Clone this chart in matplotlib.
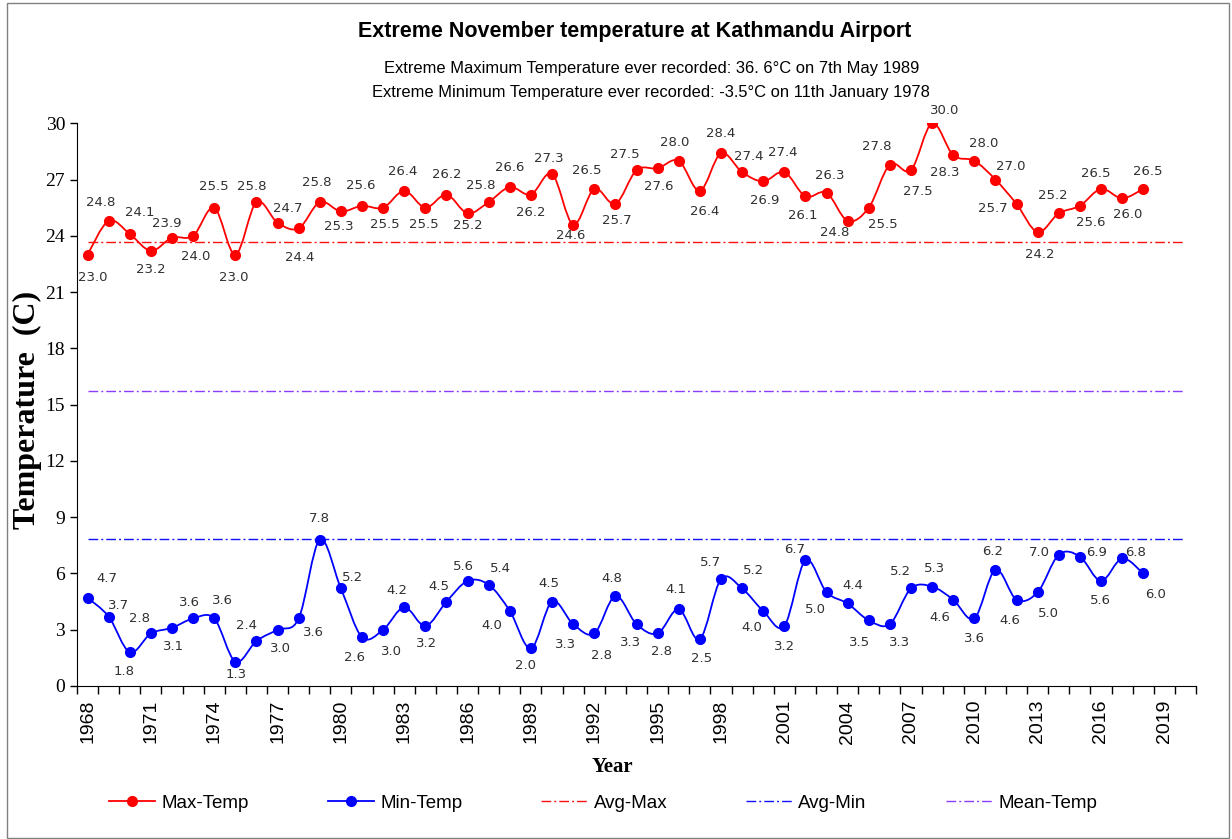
import matplotlib
matplotlib.use("Agg")
import matplotlib.pyplot as plt
import numpy as np
from matplotlib.lines import Line2D
from matplotlib.patches import PathPatch, Rectangle
from matplotlib.path import Path

# data
years = list(range(1968, 2019))
max_temp = [23.0, 24.8, 24.1, 23.2, 23.9, 24.0, 25.5, 23.0, 25.8, 24.7,
            24.4, 25.8, 25.3, 25.6, 25.5, 26.4, 25.5, 26.2, 25.2, 25.8,
            26.6, 26.2, 27.3, 24.6, 26.5, 25.7, 27.5, 27.6, 28.0, 26.4,
            28.4, 27.4, 26.9, 27.4, 26.1, 26.3, 24.8, 25.5, 27.8, 27.5,
            30.0, 28.3, 28.0, 27.0, 25.7, 24.2, 25.2, 25.6, 26.5, 26.0,
            26.5]
min_temp = [4.7, 3.7, 1.8, 2.8, 3.1, 3.6, 3.6, 1.3, 2.4, 3.0,
            3.6, 7.8, 5.2, 2.6, 3.0, 4.2, 3.2, 4.5, 5.6, 5.4,
            4.0, 2.0, 4.5, 3.3, 2.8, 4.8, 3.3, 2.8, 4.1, 2.5,
            5.7, 5.2, 4.0, 3.2, 6.7, 5.0, 4.4, 3.5, 3.3, 5.2,
            5.3, 4.6, 3.6, 6.2, 4.6, 5.0, 7.0, 6.9, 5.6, 6.8,
            6.0]
avg_max = 23.65
avg_min = 7.83
mean_temp = 15.72
first_year, last_year = 1968, 2020

# label offsets in pixels (dx, dy with dy positive = up)
max_off = [(5, -23), (-8, 18), (10, 21), (0, -19), (-5, 14), (3, -21), (0, 21), (-2, -23), (-5, 16), (10, 14),
           (1, -29), (-3, 20), (-2, -15), (-1, 20), (2, -17), (-2, 19), (-2, -17), (0, 20), (0, -12), (-8, 17),
           (0, 20), (0, -18), (-3, 15), (-2, -11), (-8, 18), (1, -17), (-12, 16), (1, -18), (-4, 18), (5, -21),
           (0, 20), (7, 16), (2, -19), (-2, 20), (-3, -19), (3, 17), (-13, -12), (14, -17), (-13, 18), (7, -21),
           (13, 13), (-8, -17), (9, 17), (15, 13), (-24, -5), (2, -22), (-6, 18), (11, -17), (-5, 15), (6, -16),
           (5, 17)]
min_off = [(19, 19), (10, 11), (-6, -19), (-11, 15), (2, -19), (-4, 16), (8, 18), (1, -13), (-10, 15), (3, -19),
           (15, -14), (0, 21), (12, 11), (-8, -20), (8, -22), (-7, 17), (1, -18), (-8, 15), (-4, 14), (12, 16),
           (-18, -15), (-5, -17), (-3, 18), (-8, -20), (7, -22), (-4, 17), (-6, -18), (4, -18), (-3, 20), (2, -19),
           (-10, 17), (11, 18), (-11, -17), (0, -21), (-11, 11), (-11, -17), (5, 18), (-9, -22), (10, -18), (-10, 17),
           (2, 18), (-13, -18), (0, -20), (-3, 18), (-7, -21), (11, -21), (-19, 2), (17, 4), (-1, -20), (13, 6),
           (12, -21)]


def smooth_path(x, y):
    """Bezier path through the points, like Excel's smoothed line."""
    pts = np.column_stack([x, y]).astype(float)
    n = len(pts)
    verts = [pts[0]]
    codes = [Path.MOVETO]
    for i in range(n - 1):
        p0 = pts[max(i - 1, 0)]
        p1 = pts[i]
        p2 = pts[i + 1]
        p3 = pts[min(i + 2, n - 1)]
        verts += [p1 + (p2 - p0) / 6, p2 - (p3 - p1) / 6, p2]
        codes += [Path.CURVE4] * 3
    return Path(verts, codes)


W, H = 1232, 839
fig = plt.figure(figsize=(W / 100, H / 100), dpi=100)
ax = fig.add_axes([77 / W, 1 - 686 / H, (1196 - 77) / W, (686 - 123.3) / H])

sans = "Liberation Sans"
serif = "Liberation Serif"
label_color = "#303030"

dash = (0, (7, 2.2, 1.4, 2.2))
ax.plot([first_year, last_year], [avg_max] * 2, color="#ff1010", lw=1.0, linestyle=dash)
ax.plot([first_year, last_year], [avg_min] * 2, color="#1010ff", lw=1.0, linestyle=dash)
ax.plot([first_year, last_year], [mean_temp] * 2, color="#8a3cff", lw=1.0, linestyle=dash)

for vals, color, offs in [(max_temp, "#ff0000", max_off), (min_temp, "#0000ff", min_off)]:
    ax.add_patch(PathPatch(smooth_path(years, vals), fill=False, edgecolor=color, lw=1.3))
    ax.plot(years, vals, "o", color=color, markersize=7, zorder=3)
    for x, v, (dx, dy) in zip(years, vals, offs):
        ax.annotate(f"{v:.1f}", (x, v), xytext=(dx, dy), textcoords="offset pixels",
                    ha="center", va="center", fontsize=9.5, color=label_color,
                    family="DejaVu Sans")

ax.set_xlim(first_year - 0.5, last_year + 0.5)
ax.set_ylim(0, 30)
ax.set_yticks(range(0, 31, 3))
ax.set_xticks(range(1968, 2020, 3))
ax.set_xticks(np.arange(first_year - 0.5, last_year + 0.6, 1), minor=True)
ax.tick_params(axis="x", which="major", length=0, pad=10, rotation=90, labelsize=14)
ax.tick_params(axis="x", which="minor", length=6, direction="out", width=1)
ax.tick_params(axis="y", length=5, width=1, labelsize=14)
for lab in ax.get_xticklabels():
    lab.set_family(sans)
for lab in ax.get_yticklabels():
    lab.set_family(serif)
ax.spines["top"].set_visible(False)
ax.spines["right"].set_visible(False)

fig.text(27 / W, 1 - 410 / H, "Temperature  (C)", rotation=90, ha="center", va="center",
         family=serif, fontweight="bold", fontsize=23)
fig.text(612 / W, 1 - 767 / H, "Year", ha="center", va="center",
         family=serif, fontweight="bold", fontsize=15)

fig.text(635 / W, 1 - 32 / H, "Extreme November temperature at Kathmandu Airport",
         ha="center", va="center", family=sans, fontweight="bold", fontsize=15.5)
fig.text(652 / W, 1 - 68 / H,
         "Extreme Maximum Temperature ever recorded: 36. 6\u00b0C on 7th May 1989",
         ha="center", va="center", family=sans, fontsize=11.9)
fig.text(651 / W, 1 - 93 / H,
         "Extreme Minimum Temperature ever recorded: -3.5\u00b0C on 11th January 1978",
         ha="center", va="center", family=sans, fontsize=11.9)

handles = [
    Line2D([], [], color="#ff0000", marker="o", markersize=7, lw=1.3),
    Line2D([], [], color="#0000ff", marker="o", markersize=7, lw=1.3),
    Line2D([], [], color="#ff1010", lw=1.0, linestyle=dash),
    Line2D([], [], color="#1010ff", lw=1.0, linestyle=dash),
    Line2D([], [], color="#8a3cff", lw=1.0, linestyle=dash),
]
labels = ["Max-Temp", "Min-Temp", "Avg-Max", "Avg-Min", "Mean-Temp"]
fig.legend(handles, labels, loc="center", bbox_to_anchor=(603 / W, 1 - 803 / H), ncol=5,
           frameon=False, prop={"family": sans, "size": 13.5}, handlelength=2.45,
           handletextpad=0.35, columnspacing=4.2)

fig.add_artist(Rectangle((7 / W, 1 / H), (1229 - 7) / W, (836 - 1) / H, transform=fig.transFigure,
                         fill=False, edgecolor="#808080", lw=1))

fig.savefig("out.png", dpi=100)
